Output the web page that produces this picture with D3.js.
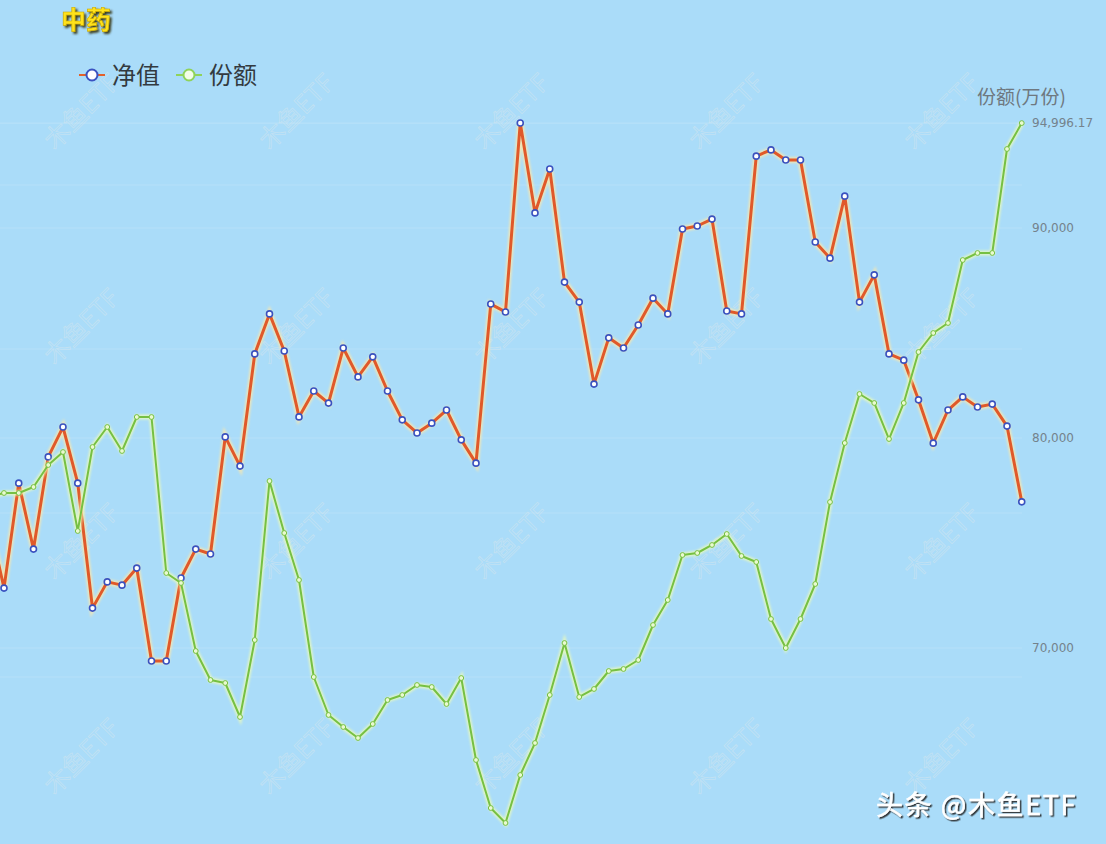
<!DOCTYPE html>
<html>
<head>
<meta charset="utf-8">
<title>中药</title>
<script src="https://d3js.org/d3.v7.min.js"></script>
<style>
  html, body { margin: 0; padding: 0; background: #aadcf9; }
  svg { display: block; font-family: "Noto Sans CJK SC", "Noto Sans", sans-serif; }
</style>
</head>
<body>
<script>
// 71 trading points; index 0 sits just off the left edge (the picture is cropped)
var navValues = [0.9473,
  0.9271, 0.9591, 0.9390, 0.9671, 0.9762, 0.9591, 0.9210, 0.9290, 0.9280, 0.9332,
  0.9049, 0.9049, 0.9302, 0.9390, 0.9375, 0.9732, 0.9643, 0.9985, 1.0107, 0.9994,
  0.9793, 0.9872, 0.9835, 1.0003, 0.9915, 0.9976, 0.9872, 0.9784, 0.9744, 0.9774,
  0.9814, 0.9723, 0.9652, 1.0137, 1.0113, 1.0689, 1.0415, 1.0549, 1.0204, 1.0143,
  0.9893, 1.0034, 1.0003, 1.0073, 1.0155, 1.0107, 1.0366, 1.0375, 1.0396, 1.0116,
  1.0107, 1.0588, 1.0607, 1.0576, 1.0576, 1.0326, 1.0277, 1.0466, 1.0143, 1.0226,
  0.9985, 0.9966, 0.9845, 0.9713, 0.9814, 0.9854, 0.9823, 0.9832, 0.9765, 0.9534];

var shareValues = [77190,
  77381, 77381, 77667, 78714, 79333, 75571, 79571, 80524, 79381, 81000,
  81000, 73571, 73095, 69857, 68476, 68333, 66714, 70381, 77952, 75476,
  73238, 68619, 66810, 66238, 65714, 66381, 67524, 67762, 68238, 68143,
  67333, 68571, 64667, 62381, 61667, 63952, 65476, 67762, 70238, 67667,
  68048, 68905, 69000, 69429, 71095, 72286, 74429, 74524, 74905, 75429,
  74381, 74095, 71381, 70000, 71381, 73048, 76952, 79762, 82095, 81667,
  79952, 81667, 84095, 85000, 85476, 88476, 88810, 88810, 93762, 94996.17];

var shareTicks = [70000, 80000, 90000, 94996.17];
var navGrid = [0.90, 0.95, 1.00, 1.05];
var seriesNames = ["净值", "份额"];
var titleText = "中药";
var axisName = "份额(万份)";
var watermark = "木鱼ETF";
var credit = "头条 @木鱼ETF";

var W = 1106, H = 844;
var svg = d3.select("body").append("svg").attr("width", W).attr("height", H);

svg.append("rect").attr("width", W).attr("height", H).attr("fill", "#aadcf9");

var defs = svg.append("defs");
var glow = defs.append("filter").attr("id", "glow").attr("x", "-5%").attr("y", "-5%").attr("width", "110%").attr("height", "110%");
glow.append("feGaussianBlur").attr("stdDeviation", 1.2);
var txtShadow = defs.append("filter").attr("id", "tshadow");
txtShadow.append("feDropShadow").attr("dx", 2).attr("dy", 2).attr("stdDeviation", 0.8)
  .attr("flood-color", "#2e2600").attr("flood-opacity", 0.9);
var creditShadow = defs.append("filter").attr("id", "cshadow");
creditShadow.append("feDropShadow").attr("dx", 1.5).attr("dy", 1.5).attr("stdDeviation", 0.4)
  .attr("flood-color", "#222").attr("flood-opacity", 0.9);

var x = d3.scaleLinear().domain([0, navValues.length - 1]).range([-10.75, 1021.75]);
var yNav = d3.scaleLinear().domain([0.85, 1.10]).range([841, 21]);
var yShare = d3.scaleLinear().domain([60000, 100000]).range([858, 18]);

// faint grid lines
var grid = svg.append("g").attr("stroke", "#ffffff").attr("stroke-opacity", 0.16).attr("stroke-width", 1.2);
grid.selectAll("line.s").data(shareTicks.slice(0, 3)).enter().append("line")
  .attr("x1", 0).attr("x2", 1022).attr("y1", d => yShare(d)).attr("y2", d => yShare(d));
grid.selectAll("line.n").data(navGrid).enter().append("line")
  .attr("x1", 0).attr("x2", 1022).attr("y1", d => yNav(d)).attr("y2", d => yNav(d));
grid.append("line").attr("x1", 0).attr("x2", 1022)
  .attr("y1", yShare(d3.max(shareValues))).attr("y2", yShare(d3.max(shareValues)));

// watermarks
var wmX = [80, 295, 510, 725, 940], wmY = [110, 325, 540, 755];
var wm = svg.append("g");
wmY.forEach(function (yy) {
  wmX.forEach(function (xx) {
    wm.append("text").attr("transform", "translate(" + xx + "," + yy + ") rotate(-45)")
      .attr("text-anchor", "middle").attr("dominant-baseline", "central")
      .attr("font-size", 25).attr("fill", "none").attr("stroke", "#d6e6ee")
      .attr("stroke-opacity", 0.55).attr("stroke-width", 0.8).text(watermark);
  });
});

// right axis
var axis = d3.axisRight(yShare).tickValues(shareTicks).tickSize(0).tickPadding(0)
  .tickFormat(d => d === 94996.17 ? "94,996.17" : d3.format(",")(d));
var ag = svg.append("g").attr("transform", "translate(1032,0)").call(axis);
ag.select(".domain").remove();
ag.selectAll("text").attr("fill", "#74828c").attr("font-size", 12)
  .attr("font-family", "DejaVu Sans, sans-serif");
svg.append("text").attr("x", 977).attr("y", 104).attr("font-size", 19).attr("fill", "#6e7880").text(axisName);

var lineNav = d3.line().x((d, i) => x(i)).y(d => yNav(d));
var lineShare = d3.line().x((d, i) => x(i)).y(d => yShare(d));

// 净值
svg.append("path").datum(navValues).attr("d", lineNav).attr("fill", "none")
  .attr("stroke", "#ffe9a8").attr("stroke-opacity", 0.8).attr("stroke-width", 6).attr("filter", "url(#glow)");
svg.append("path").datum(navValues).attr("d", lineNav).attr("fill", "none")
  .attr("stroke", "#e0592a").attr("stroke-width", 3).attr("stroke-linejoin", "round");
svg.append("g").selectAll("circle").data(navValues).enter().append("circle")
  .attr("cx", (d, i) => x(i)).attr("cy", d => yNav(d)).attr("r", 3)
  .attr("fill", "#ffffff").attr("stroke", "#3a52c0").attr("stroke-width", 1.6);

// 份额
svg.append("path").datum(shareValues).attr("d", lineShare).attr("fill", "none")
  .attr("stroke", "#eefcb8").attr("stroke-opacity", 0.8).attr("stroke-width", 5).attr("filter", "url(#glow)");
svg.append("path").datum(shareValues).attr("d", lineShare).attr("fill", "none")
  .attr("stroke", "#76c043").attr("stroke-width", 2).attr("stroke-linejoin", "round");
svg.append("g").selectAll("circle").data(shareValues).enter().append("circle")
  .attr("cx", (d, i) => x(i)).attr("cy", d => yShare(d)).attr("r", 2.4)
  .attr("fill", "#eafad0").attr("stroke", "#76c043").attr("stroke-width", 1);

// title
svg.append("text").attr("x", 61).attr("y", 29).attr("font-size", 25).attr("font-weight", "bold")
  .attr("fill", "#ffe21a").attr("stroke", "#c9a800").attr("stroke-width", 0.6)
  .attr("filter", "url(#tshadow)").text(titleText);

// legend
var legendColors = [["#e3602a", "#3a52c0", "#ffffff"], ["#8fd35a", "#8fd35a", "#f4fde8"]];
var legendX = [79, 176];
seriesNames.forEach(function (name, k) {
  var g = svg.append("g").attr("transform", "translate(" + legendX[k] + ",75)");
  g.append("line").attr("x1", 0).attr("x2", 26).attr("stroke", legendColors[k][0]).attr("stroke-width", 2);
  g.append("circle").attr("cx", 13).attr("r", 5.5).attr("fill", legendColors[k][2])
    .attr("stroke", legendColors[k][1]).attr("stroke-width", 2);
  g.append("text").attr("x", 33).attr("y", 9).attr("font-size", 24).attr("fill", "#333a40").text(name);
});

// credit
svg.append("text").attr("x", 876).attr("y", 815).attr("font-size", 27).attr("letter-spacing", 1.6)
  .attr("fill", "#ffffff").attr("stroke", "#ffffff").attr("stroke-width", 0.5)
  .attr("filter", "url(#cshadow)").text(credit);
</script>
</body>
</html>
